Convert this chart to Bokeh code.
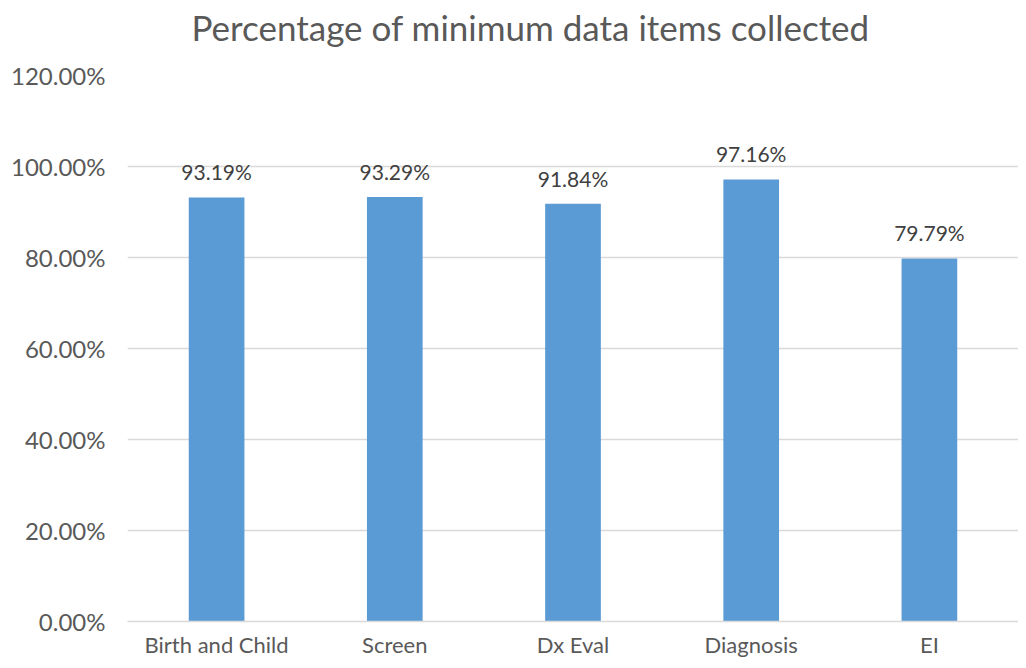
from bokeh.plotting import figure
from bokeh.models import ColumnDataSource, NumeralTickFormatter, FixedTicker, Range1d, LabelSet, Title
from bokeh.core.properties import value
from bokeh.embed import file_html
from bokeh.resources import INLINE

title_text = "Percentage of minimum data items collected"
categories = ["Birth and Child", "Screen", "Dx Eval", "Diagnosis", "EI"]
values = [0.9319, 0.9329, 0.9184, 0.9716, 0.7979]
labels = ["93.19%", "93.29%", "91.84%", "97.16%", "79.79%"]
y_ticks = [0.0, 0.2, 0.4, 0.6, 0.8, 1.0, 1.2]

FONT = "Lato"
src = ColumnDataSource(dict(cat=categories, val=values, lab=labels))

p = figure(x_range=categories, width=1018, height=660, output_backend="svg",
           toolbar_location=None, tools="",
           min_border_left=127, min_border_right=0, min_border_bottom=37, min_border_top=75)
p.y_range = Range1d(0, 1.2)

# spacer between the title and the plot frame
p.add_layout(Title(text=" ", text_font=FONT, text_font_size="20px", standoff=2), "above")

p.title.text = title_text
p.title.text_font = FONT
p.title.text_font_size = "35px"
p.title.text_font_style = "normal"
p.title.text_color = "#595959"
p.title.align = "left"
p.title.vertical_align = "bottom"
p.title.offset = 64
p.title.standoff = 0

p.vbar(x="cat", top="val", width=0.3125, source=src, color="#5B9BD5", line_color=None)

p.add_layout(LabelSet(x="cat", y="val", text="lab", source=src, text_align="center",
                      text_baseline="bottom", y_offset=13, text_font=value(FONT),
                      text_font_size="21px", text_color="#404040"))

p.outline_line_color = None
p.xgrid.grid_line_color = None
p.ygrid.grid_line_color = "#D9D9D9"
p.ygrid.grid_line_width = 1.5

p.yaxis.ticker = FixedTicker(ticks=y_ticks)
p.yaxis.formatter = NumeralTickFormatter(format="0.00%")
for ax in (p.xaxis, p.yaxis):
    ax.major_tick_line_color = None
    ax.minor_tick_line_color = None
    ax.major_tick_out = 0
    ax.minor_tick_out = 0
    ax.major_label_text_font = FONT
    ax.major_label_text_color = "#595959"
p.yaxis.major_label_text_font_size = "24px"
p.xaxis.major_label_text_font_size = "22px"
p.yaxis.axis_line_color = None
p.yaxis.major_label_standoff = 22
p.xaxis.axis_line_color = "#D9D9D9"
p.xaxis.axis_line_width = 1.5
p.xaxis.major_label_standoff = 9

open("out.html", "w").write(file_html(p, INLINE))
